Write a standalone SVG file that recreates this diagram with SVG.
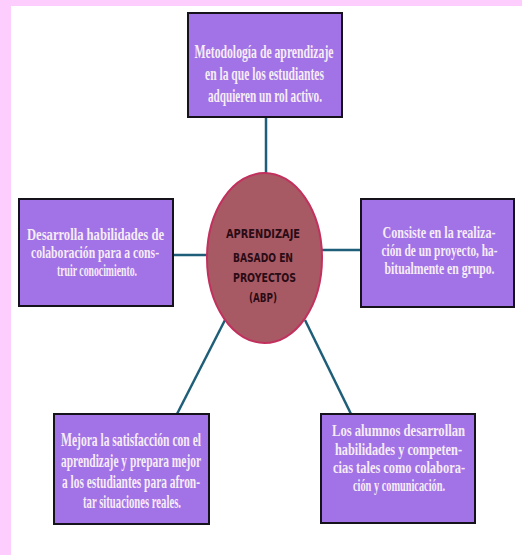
<svg xmlns="http://www.w3.org/2000/svg" width="522" height="555" viewBox="0 0 522 555">
<style>
.box{fill:#A273E6;stroke:#15121c;stroke-width:2}
.t{font-family:"Liberation Serif","Times New Roman",serif;font-weight:bold;font-size:18px;fill:#F6ECF6;text-anchor:middle}
.t.s16{font-size:16px}
.c{font-family:"DejaVu Sans","Liberation Sans",sans-serif;font-weight:bold;font-size:12.5px;fill:#2a0c16;text-anchor:middle}
.ln{stroke:#1E5E78;stroke-width:2.5;fill:none}
</style>
<rect x="0" y="0" width="522" height="555" fill="#FDCDFD"/>
<rect x="11" y="6" width="511" height="549" fill="#FFFFFF"/>
<g id="connectors">
<line class="ln" x1="266" y1="117" x2="266" y2="173"/>
<line class="ln" x1="173" y1="255" x2="207.5" y2="255"/>
<line class="ln" x1="321.7" y1="250" x2="361" y2="250"/>
<line class="ln" x1="225" y1="320" x2="177" y2="414"/>
<line class="ln" x1="305" y1="320" x2="351" y2="414"/>
</g>
<g id="center">
<ellipse cx="264.5" cy="258" rx="57.5" ry="85" fill="#A85A64" stroke="#C2305E" stroke-width="2"/>
<text class="c" transform="translate(263,237.5) scale(0.75,1)" textLength="98.7" lengthAdjust="spacingAndGlyphs">APRENDIZAJE</text>
<text class="c" transform="translate(263,261.5) scale(0.75,1)" textLength="80" lengthAdjust="spacingAndGlyphs">BASADO EN</text>
<text class="c" transform="translate(264.5,281.5) scale(0.75,1)" textLength="84" lengthAdjust="spacingAndGlyphs">PROYECTOS</text>
<text class="c" transform="translate(263,301.5) scale(0.75,1)" textLength="37.3" lengthAdjust="spacingAndGlyphs">(ABP)</text>
</g>
<g id="top">
<rect class="box" x="188" y="13" width="154" height="104"/>
<text class="t" transform="translate(264,58) scale(0.7,1)" textLength="198.6" lengthAdjust="spacingAndGlyphs">Metodología de aprendizaje</text>
<text class="t" transform="translate(264.5,80) scale(0.7,1)" textLength="170" lengthAdjust="spacingAndGlyphs">en la que los estudiantes</text>
<text class="t" transform="translate(265,102) scale(0.7,1)" textLength="162.9" lengthAdjust="spacingAndGlyphs">adquieren un rol activo.</text>
</g>
<g id="left">
<rect class="box" x="19" y="199" width="154" height="107"/>
<text class="t s16" transform="translate(95.5,240) scale(0.7,1)" textLength="195.7" lengthAdjust="spacingAndGlyphs">Desarrolla habilidades de</text>
<text class="t s16" transform="translate(95,258) scale(0.7,1)" textLength="182.9" lengthAdjust="spacingAndGlyphs">colaboración para a cons-</text>
<text class="t s16" transform="translate(97,276) scale(0.7,1)" textLength="114.3" lengthAdjust="spacingAndGlyphs">truir conocimiento.</text>
</g>
<g id="right">
<rect class="box" x="361" y="199" width="153" height="108"/>
<text class="t s16" transform="translate(439,238) scale(0.7,1)" textLength="161.4" lengthAdjust="spacingAndGlyphs">Consiste en la realiza-</text>
<text class="t s16" transform="translate(439.5,256) scale(0.7,1)" textLength="165.7" lengthAdjust="spacingAndGlyphs">ción de un proyecto, ha-</text>
<text class="t s16" transform="translate(439.5,274) scale(0.7,1)" textLength="157.1" lengthAdjust="spacingAndGlyphs">bitualmente en grupo.</text>
</g>
<g id="bottom-left">
<rect class="box" x="54" y="414" width="155" height="110"/>
<text class="t" transform="translate(131,446) scale(0.7,1)" textLength="200" lengthAdjust="spacingAndGlyphs">Mejora la satisfacción con el</text>
<text class="t" transform="translate(131,467) scale(0.7,1)" textLength="200" lengthAdjust="spacingAndGlyphs">aprendizaje y prepara mejor</text>
<text class="t" transform="translate(131,488) scale(0.7,1)" textLength="197.1" lengthAdjust="spacingAndGlyphs">a los estudiantes para afron-</text>
<text class="t" transform="translate(132,508) scale(0.7,1)" textLength="140" lengthAdjust="spacingAndGlyphs">tar situaciones reales.</text>
</g>
<g id="bottom-right">
<rect class="box" x="321" y="414" width="154" height="109"/>
<text class="t s16" transform="translate(398.5,436) scale(0.7,1)" textLength="190" lengthAdjust="spacingAndGlyphs">Los alumnos desarrollan</text>
<text class="t s16" transform="translate(398.5,454.5) scale(0.7,1)" textLength="181.4" lengthAdjust="spacingAndGlyphs">habilidades y competen-</text>
<text class="t s16" transform="translate(399,472.5) scale(0.7,1)" textLength="188.6" lengthAdjust="spacingAndGlyphs">cias tales como colabora-</text>
<text class="t s16" transform="translate(399,490.5) scale(0.7,1)" textLength="131.4" lengthAdjust="spacingAndGlyphs">ción y comunicación.</text>
</g>
</svg>
